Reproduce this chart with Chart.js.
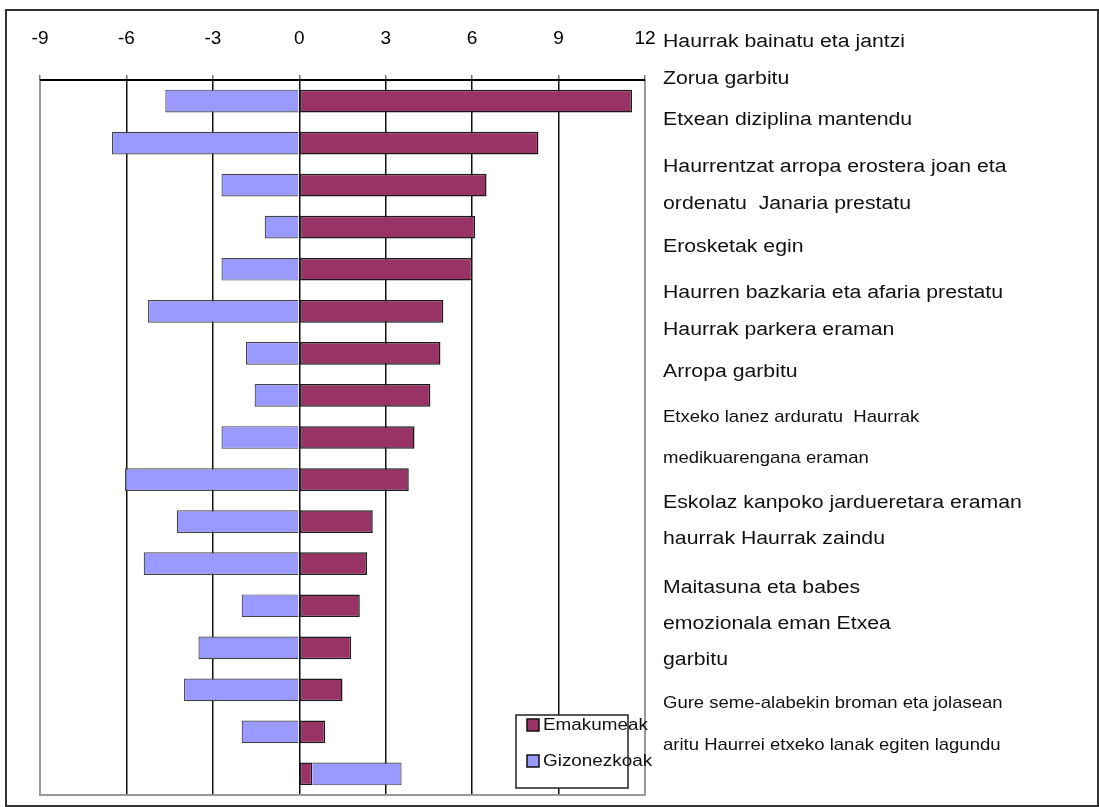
<!DOCTYPE html>
<html>
<head>
<meta charset="utf-8">
<script src="https://cdn.jsdelivr.net/npm/chart.js@4.4.0/dist/chart.umd.min.js"></script>
<style>
  html, body { margin: 0; padding: 0; background: #fff; }
  #wrap { position: relative; width: 1099px; height: 807px; overflow: hidden; }
  #frame { position: absolute; left: 5px; top: 9px; width: 1090px; height: 794px; border: 2px solid #333; }
  #grafico { position: absolute; left: 0; top: 0; }
  .lado {
    position: absolute; left: 663px; white-space: pre; line-height: 1; color: #111;
    font-family: Arial, "Liberation Sans", sans-serif;
    transform-origin: 0 50%; transform: translateY(-50%) scaleX(1.18);
  }
</style>
</head>
<body>
<div id="wrap">
  <div id="frame"></div>
  <canvas id="grafico" width="1099" height="807"></canvas>
</div>
<script>
// categorias (de arriba a abajo)
const categorias = [
  "Haurrak bainatu eta jantzi",
  "Zorua garbitu",
  "Etxean diziplina mantendu",
  "Haurrentzat arropa erostera joan eta ordenatu",
  "Janaria prestatu",
  "Erosketak egin",
  "Haurren bazkaria eta afaria prestatu",
  "Haurrak parkera eraman",
  "Arropa garbitu",
  "Etxeko lanez arduratu",
  "Haurrak medikuarengana eraman",
  "Eskolaz kanpoko jardueretara eraman haurrak",
  "Haurrak zaindu",
  "Maitasuna eta babes emozionala eman",
  "Etxea garbitu",
  "Gure seme-alabekin broman eta jolasean aritu",
  "Haurrei etxeko lanak egiten lagundu"
];
const emakumeak = [11.55, 8.3, 6.5, 6.1, 6.0, 5.0, 4.9, 4.55, 4.0, 3.8, 2.55, 2.35, 2.1, 1.8, 1.5, 0.9, 0.45];
const gizonezkoak = [-4.65, -6.5, -2.7, -1.2, -2.7, -5.25, -1.85, -1.55, -2.7, -6.05, -4.25, -5.4, -2.0, -3.5, -4.0, -2.0, 3.1];
const ticksX = [-9, -6, -3, 0, 3, 6, 9, 12];

// texto de la derecha tal y como aparece en el original
const lineasLado = [
  "Haurrak bainatu eta jantzi",
  "Zorua garbitu",
  "Etxean diziplina mantendu",
  "Haurrentzat arropa erostera joan eta",
  "ordenatu  Janaria prestatu",
  "Erosketak egin",
  "Haurren bazkaria eta afaria prestatu",
  "Haurrak parkera eraman",
  "Arropa garbitu",
  "Etxeko lanez arduratu  Haurrak",
  "medikuarengana eraman",
  "Eskolaz kanpoko jardueretara eraman",
  "haurrak Haurrak zaindu",
  "Maitasuna eta babes",
  "emozionala eman Etxea",
  "garbitu",
  "Gure seme-alabekin broman eta jolasean",
  "aritu Haurrei etxeko lanak egiten lagundu"
];
// posicion vertical y tamaño de cada linea (solo maquetacion)
const ladoY = [41, 78, 119, 166, 203, 246, 292, 329, 371, 417, 458, 502, 538, 587, 623, 659, 703, 745];
const ladoPeque = [9, 10, 16, 17];

const wrap = document.getElementById("wrap");
lineasLado.forEach((txt, i) => {
  const d = document.createElement("div");
  d.className = "lado";
  d.textContent = txt;
  d.style.top = ladoY[i] + "px";
  d.style.fontSize = (ladoPeque.includes(i) ? 15.7 : 18) + "px";
  wrap.appendChild(d);
});

const FUENTE = 'Arial, "Liberation Sans", sans-serif';

// marco gris del area y leyenda dentro del grafico
const marcoYLeyenda = {
  id: "marcoYLeyenda",
  afterDraw(chart) {
    const ctx = chart.ctx;
    const a = chart.chartArea;
    ctx.save();
    ctx.strokeStyle = "#999";
    ctx.lineWidth = 2;
    ctx.beginPath();
    ctx.moveTo(a.left, a.top);
    ctx.lineTo(a.left, a.bottom);
    ctx.lineTo(a.right, a.bottom);
    ctx.lineTo(a.right, a.top);
    ctx.stroke();
    ctx.strokeStyle = "#000";
    ctx.beginPath();
    ctx.moveTo(a.left, a.top);
    ctx.lineTo(a.right, a.top);
    ctx.stroke();

    // leyenda
    const lx = 516, ly = 715, lw = 112, lh = 73;
    ctx.fillStyle = "#fff";
    ctx.fillRect(lx, ly, lw, lh);
    ctx.strokeStyle = "#222";
    ctx.lineWidth = 1.5;
    ctx.strokeRect(lx, ly, lw, lh);
    chart.data.datasets.forEach((ds, i) => {
      const cy = ly + 10 + i * 36;
      ctx.fillStyle = ds.backgroundColor;
      ctx.fillRect(lx + 11, cy - 6, 12, 12);
      ctx.strokeStyle = "#111";
      ctx.lineWidth = 1.5;
      ctx.strokeRect(lx + 11, cy - 6, 12, 12);
      ctx.save();
      ctx.translate(lx + 27, cy);
      ctx.scale(1.18, 1);
      ctx.fillStyle = "#111";
      ctx.font = "16px " + FUENTE;
      ctx.textBaseline = "middle";
      ctx.fillText(ds.label, 0, 1);
      ctx.restore();
    });
    ctx.restore();
  },
};

const ctx = document.getElementById("grafico").getContext("2d");
new Chart(ctx, {
  type: "bar",
  data: {
    labels: categorias,
    datasets: [
      {
        label: "Emakumeak",
        data: emakumeak,
        backgroundColor: "#993366",
        borderColor: "#1a1a1a",
        borderWidth: 1.5,
        borderSkipped: false,
        barPercentage: 0.54,
        categoryPercentage: 1,
      },
      {
        label: "Gizonezkoak",
        data: gizonezkoak,
        backgroundColor: "#9999FF",
        borderColor: "#444",
        borderWidth: 1.2,
        barPercentage: 0.54,
        categoryPercentage: 1,
      },
    ],
  },
  options: {
    indexAxis: "y",
    responsive: false,
    animation: false,
    layout: { padding: { top: 0, left: 40, right: 454, bottom: 12 } },
    plugins: { legend: { display: false }, tooltip: { enabled: false } },
    scales: {
      x: {
        position: "top",
        stacked: true,
        min: -9,
        max: 12,
        afterBuildTicks: (s) => { s.ticks = ticksX.map((v) => ({ value: v })); },
        afterFit: (s) => { s.height = 80; },
        ticks: {
          color: "#000",
          padding: 25,
          font: { family: FUENTE, size: 19 },
        },
        grid: {
          color: (c) => (c.tick && (c.tick.value === -9 || c.tick.value === 12) ? "rgba(0,0,0,0)" : "#111"),
          tickColor: "#777",
          lineWidth: 1.5,
          tickLength: 5,
        },
        border: { display: false },
      },
      y: {
        stacked: true,
        display: false,
      },
    },
  },
  plugins: [marcoYLeyenda],
});
</script>
</body>
</html>
